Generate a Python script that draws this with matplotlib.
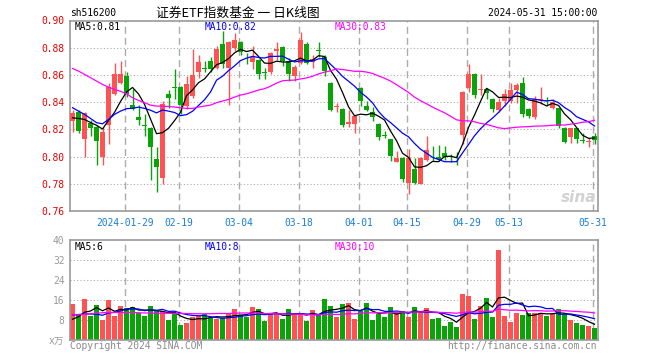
import numpy as np
import pandas as pd
import matplotlib
matplotlib.use("Agg")
import matplotlib.pyplot as plt

# trading days shown (2024-01-16 .. 2024-05-31)
dates = ["01-16", "01-17", "01-18", "01-19", "01-22", "01-23", "01-24", "01-25", "01-26", "01-29",
         "01-30", "01-31", "02-01", "02-02", "02-05", "02-06", "02-07", "02-08", "02-19", "02-20",
         "02-21", "02-22", "02-23", "02-26", "02-27", "02-28", "02-29", "03-01", "03-04", "03-05",
         "03-06", "03-07", "03-08", "03-11", "03-12", "03-13", "03-14", "03-15", "03-18", "03-19",
         "03-20", "03-21", "03-22", "03-25", "03-26", "03-27", "03-28", "03-29", "04-01", "04-02",
         "04-03", "04-08", "04-09", "04-10", "04-11", "04-12", "04-15", "04-16", "04-17", "04-18",
         "04-19", "04-22", "04-23", "04-24", "04-25", "04-26", "04-29", "04-30", "05-06", "05-07",
         "05-08", "05-09", "05-10", "05-13", "05-14", "05-15", "05-16", "05-17", "05-20", "05-21",
         "05-22", "05-23", "05-24", "05-27", "05-28", "05-29", "05-30", "05-31"]

opens = [.826, .833, .813, .825, .8215, .800, .823, .8457, .854, .859,
         .838, .829, .8235, .821, .798, .784, .846, .8515, .851, .837,
         .8445, .862, .8655, .870, .865, .883, .865, .880, .884, .8715,
         .8697, .871, .8617, .8625, .8775, .8805, .870, .8595, .869, .883,
         .8698, .8785, .8735, .854, .8365, .8347, .8236, .8236, .8505, .8372,
         .833, .8242, .816, .8126, .7962, .7986, .7807, .7905, .780, .7972,
         .7995, .7995, .8025, .8005, .7995, .8158, .8506, .861, .8487, .850,
         .842, .834, .8408, .8408, .8486, .8543, .8347, .829, .8418, .8415,
         .8354, .8354, .8212, .8143, .8207, .812, .8108, .815]
highs = [.834, .834, .833, .827, .823, .822, .854, .869, .870, .862,
         .850, .838, .831, .822, .807, .841, .849, .864, .852, .859,
         .879, .875, .870, .873, .881, .892, .885, .891, .885, .876,
         .881, .872, .865, .877, .884, .881, .8725, .867, .8915, .884,
         .875, .884, .875, .855, .8395, .8355, .834, .830, .851, .8405,
         .8365, .8245, .8188, .8128, .804, .800, .8052, .7993, .800, .815,
         .808, .8085, .808, .8022, .8035, .848, .868, .8612, .8609, .8505,
         .8428, .8433, .850, .8543, .8543, .8585, .8355, .8443, .851, .8437,
         .842, .8356, .8215, .821, .821, .8175, .8134, .8175]
lows = [.818, .817, .800, .815, .7935, .7935, .809, .845, .853, .844,
        .834, .823, .815, .783, .774, .780, .836, .842, .831, .835,
        .843, .858, .862, .862, .864, .865, .838, .8775, .875, .868,
        .8645, .857, .857, .861, .871, .8665, .8555, .8555, .868, .868,
        .865, .873, .8595, .8335, .833, .8215, .8217, .8175, .837, .8333,
        .826, .8125, .8133, .7967, .796, .7815, .7722, .7795, .7795, .7965,
        .7965, .797, .7975, .7963, .794, .8093, .8476, .8427, .8452, .842,
        .833, .833, .8371, .8396, .8396, .829, .828, .8275, .839, .837,
        .835, .821, .810, .810, .810, .810, .807, .8095]
closes = [.832, .8187, .832, .821, .8114, .818, .851, .861, .861, .846,
          .835, .827, .823, .807, .792, .839, .843, .851, .838, .853,
          .860, .8695, .865, .864, .879, .868, .884, .886, .877, .871,
          .873, .861, .8615, .876, .879, .870, .861, .866, .8857, .869,
          .872, .878, .863, .8345, .837, .823, .8256, .8298, .8405, .8345,
          .8293, .8143, .8157, .8003, .7986, .7832, .7993, .7807, .7986, .8045,
          .799, .7985, .7995, .800, .799, .8476, .861, .8452, .850, .847,
          .8347, .8403, .8462, .8486, .8525, .831, .8298, .842, .842, .8413,
          .8403, .8224, .811, .8207, .8126, .8118, .811, .812]
# volume, x10k lots
volumes = [14.4, 10.3, 16.4, 9.7, 14.0, 8.0, 16.0, 9.7, 13.6, 12.7,
           13.2, 10.7, 9.7, 13.6, 11.6, 11.6, 8.0, 10.7, 6.0, 6.9,
           9.3, 9.7, 10.3, 8.9, 8.4, 8.7, 10.3, 12.4, 10.0, 9.3,
           13.3, 12.4, 7.7, 10.3, 10.7, 8.4, 12.4, 10.3, 10.9, 7.7,
           12.0, 10.0, 16.4, 13.7, 9.3, 14.4, 14.9, 8.4, 11.6, 14.9,
           8.0, 10.3, 9.3, 13.3, 10.7, 11.6, 9.3, 13.3, 11.6, 12.9,
           8.4, 8.9, 5.7, 7.3, 5.3, 18.4, 17.7, 8.4, 13.7, 16.9,
           9.3, 36.0, 9.7, 7.3, 10.9, 10.0, 10.7, 10.9, 10.9, 9.7,
           10.3, 12.4, 10.3, 8.0, 6.9, 6.0, 5.7, 4.9]

ma5_head = [.8285, .828, .8273, .825]
ma10_head = [.8359, .8334, .831, .828, .8249, .8241, .8273, .831, .8334]
ma30_head = [.8648, .8628, .8604, .858, .8555, .853, .851, .8494, .848, .8462,
             .8432, .8413, .8396, .8378, .8371, .837, .8368, .8364, .8359, .8354,
             .8354, .8364, .8371, .8378, .8396, .8408, .842, .8437, .8452]
vma5_head = [8.3, 9.3, 11.1, 11.6]
vma10_head = [10.0, 10.2, 10.4, 10.4, 10.3, 9.9, 10.8, 11.1, 11.6]
vma30_head = [10.0, 10.1, 10.3, 10.5, 10.7, 10.9, 11.0, 11.0, 11.0, 11.0,
              11.0, 10.9, 10.8, 10.8, 10.7, 10.7, 10.7, 10.6, 10.6, 10.6,
              10.5, 10.5, 10.5, 10.5, 10.6, 10.6, 10.6, 10.7, 10.8]

tick_dates = ["01-29", "02-19", "03-04", "03-18", "04-01", "04-15", "04-29", "05-13", "05-31"]
tick_labels = ["2024-01-29", "02-19", "03-04", "03-18", "04-01", "04-15", "04-29", "05-13", "05-31"]
price_ticks = [0.76, 0.78, 0.80, 0.82, 0.84, 0.86, 0.88, 0.90]
vol_ticks = [0, 8, 16, 24, 32, 40]
vol_tick_labels = ["x万", "8", "16", "24", "32", "40"]

RED = "#ff5353"
GREEN = "#08a408"
GRID = "#ababab"
MONO = ["DejaVu Sans Mono", "Noto Sans CJK SC"]
FS = 6.9


def with_head(values, window, head):
    out = pd.Series(values).rolling(window).mean().to_numpy()
    out[:len(head)] = head
    return out


x = np.arange(len(dates))
o = np.array(opens)
c = np.array(closes)
up = c >= o
cols = np.where(up, RED, GREEN)
grid_x = [dates.index(d) - 0.33 for d in tick_dates]

fig = plt.figure(figsize=(6.6, 3.6), dpi=100)
ax = fig.add_axes((70 / 660, 1 - 211 / 360, 528 / 660, 190.5 / 360))
axv = fig.add_axes((70 / 660, 20 / 360, 528 / 660, 100 / 360))

for a in (ax, axv):
    a.set_xlim(-0.42, len(dates) - 0.42)
    for s in a.spines.values():
        s.set_color("#999999")
        s.set_linewidth(1.2)
    for gx in grid_x:
        a.axvline(gx, color=GRID, lw=1, ls=(0, (5, 3)), zorder=0)
    a.tick_params(length=0)

# price panel
ax.set_ylim(0.76, 0.90)
for p in price_ticks[1:-1]:
    ax.axhline(p, color=GRID, lw=0.8, ls=(0, (1, 2)), zorder=0)
ax.vlines(x, lows, highs, colors=cols, lw=1, zorder=2)
flat = np.abs(c - o) < 0.0006
ax.bar(x, np.where(flat, 0.0006, np.abs(c - o)), bottom=np.minimum(o, c) - np.where(flat, 0.0003, 0),
       width=0.82, color=cols, lw=0, zorder=3)
ax.plot(x, with_head(closes, 5, ma5_head), color="black", lw=0.9, zorder=4)
ax.plot(x, with_head(closes, 10, ma10_head), color="#0000ff", lw=0.9, zorder=4)
ax.plot(x, with_head(closes, 30, ma30_head), color="#ff00ff", lw=0.9, zorder=4)

ax.set_yticks(price_ticks)
ax.set_yticklabels([f"{p:.2f}" for p in price_ticks], family=MONO, fontsize=FS, color="#e60000")
ax.tick_params(axis="y", pad=4)
ax.set_xticks(grid_x)
ax.set_xticklabels(tick_labels, family=MONO, fontsize=FS, color="#1a7fd6")
ax.tick_params(axis="x", pad=5)

ax.text(5 / 528, 0.965, "MA5:0.81", transform=ax.transAxes, family=MONO, fontsize=FS,
        color="black", va="center")
ax.text(135 / 528, 0.965, "MA10:0.82", transform=ax.transAxes, family=MONO, fontsize=FS,
        color="#0000ff", va="center")
ax.text(265 / 528, 0.965, "MA30:0.83", transform=ax.transAxes, family=MONO, fontsize=FS,
        color="#ff00ff", va="center")
ax.text(0.997, 0.07, "sina", transform=ax.transAxes, fontsize=11, fontweight="bold",
        style="italic", color="#d2d2d2", ha="right", va="center", zorder=1)

# volume panel
axv.set_ylim(0, 40)
for v in vol_ticks[1:-1]:
    axv.axhline(v, color=GRID, lw=0.8, ls=(0, (1, 2)), zorder=0)
axv.bar(x, volumes, width=0.82, color=cols, lw=0, zorder=2)
axv.plot(x, with_head(volumes, 5, vma5_head), color="black", lw=0.9, zorder=4)
axv.plot(x, with_head(volumes, 10, vma10_head), color="#0000ff", lw=0.9, zorder=4)
axv.plot(x, with_head(volumes, 30, vma30_head), color="#ff00ff", lw=0.9, zorder=4)
axv.set_yticks(vol_ticks)
axv.set_yticklabels(vol_tick_labels, family=MONO, fontsize=FS, color="#999999")
axv.tick_params(axis="y", pad=4)
axv.set_xticks([])
axv.text(5 / 528, 0.93, "MA5:6", transform=axv.transAxes, family=MONO, fontsize=FS,
         color="black", va="center")
axv.text(135 / 528, 0.93, "MA10:8", transform=axv.transAxes, family=MONO, fontsize=FS,
         color="#0000ff", va="center")
axv.text(265 / 528, 0.93, "MA30:10", transform=axv.transAxes, family=MONO, fontsize=FS,
         color="#ff00ff", va="center")

# header and footer
fig.text(70 / 660, 1 - 13.5 / 360, "sh516200", family=MONO, fontsize=FS, color="black", va="center")
fig.text(238 / 660, 1 - 13 / 360, "证券ETF指数基金 一 日K线图", family=["Noto Sans CJK SC", "DejaVu Sans"],
         fontsize=9.2, color="black", ha="center", va="center")
fig.text(597 / 660, 1 - 13.5 / 360, "2024-05-31 15:00:00", family=MONO, fontsize=FS, color="black",
         ha="right", va="center")
fig.text(70 / 660, 1 - 346 / 360, "Copyright 2024 SINA.COM", family=MONO, fontsize=FS, color="#8a8a8a",
         va="center")
fig.text(597 / 660, 1 - 346 / 360, "http://finance.sina.com.cn", family=MONO, fontsize=FS,
         color="#8a8a8a", ha="right", va="center")

fig.savefig("out.png", dpi=100, facecolor="white")
